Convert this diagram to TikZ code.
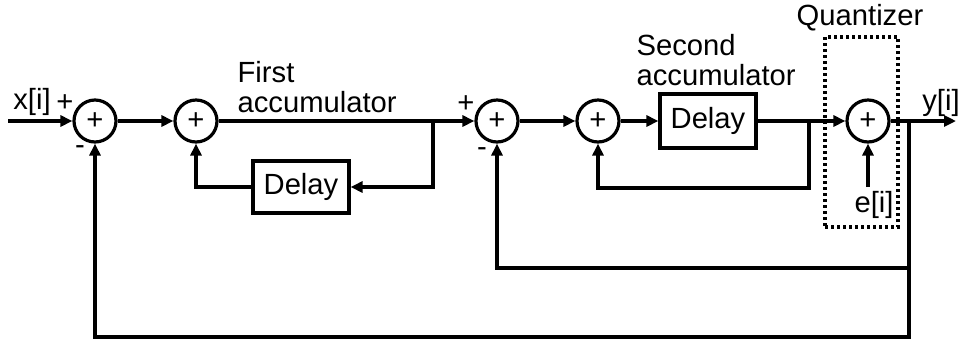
\documentclass[tikz,border=0pt]{standalone}
\usepackage{fontspec}
\setmainfont{Liberation Sans}
\usepackage{tikz}
\usetikzlibrary{arrows.meta, positioning, calc}

\begin{document}
\begin{tikzpicture}[x=0.5pt, y=-0.5pt, >={Triangle[length=6pt, width=5.5pt]},
  line width=1.6pt,
  every node/.style={font=\fontsize{14.6}{15}\selectfont},
  sumnode/.style={draw, circle, minimum size=21pt, inner sep=0pt},
  delaybox/.style={draw, rectangle, minimum width=48pt, minimum height=26pt, inner sep=0pt},
  sign/.style={inner sep=0pt}]
  \useasboundingbox (0,0) rectangle (964,339);
  % --- adders ---
  \node[sumnode] (s1) at (95,121) {+};
  \node[sumnode] (s2) at (196,121) {+};
  \node[sumnode] (s3) at (497,121) {+};
  \node[sumnode] (s4) at (598,121) {+};
  \node[sumnode] (s5) at (868,121) {+};
  % --- delays ---
  \node[delaybox] (d1) at (301,187) {Delay};
  \node[delaybox, minimum height=27pt] (d2) at (708,121) {Delay};
  % --- quantizer ---
  \node[draw, dash pattern=on 1.5pt off 1.5pt, minimum width=36.5pt, minimum height=95pt, inner sep=0pt] (qbox) at (861.5,132) {};
  \node[anchor=base] (qlbl) at (860,25) {Quantizer};
  % --- labels ---
  \node[anchor=base west, align=left, inner sep=0pt] (acc1) at (236,112) {First\\[0pt]accumulator};
  \node[anchor=base west, align=left, inner sep=0pt] (acc2) at (635,85) {Second\\[0pt]accumulator};
  \node[anchor=base] (xlbl) at (32,109) {x[i]};
  \node[anchor=base] (ylbl) at (941,110) {y[i]};
  \node[anchor=base] (elbl) at (874,212) {e[i]};
  \node[sign] (p1) at (65,103) {+};
  \node[sign] (m1) at (80,150) {-};
  \node[sign] (p3) at (466,104) {+};
  \node[sign] (m3) at (482,152) {-};
  % --- junctions and free ends ---
  \coordinate (xin) at (8,121);
  \coordinate (yout) at (956,121);
  \coordinate (j1) at (433,121);
  \coordinate (j2) at (809,121);
  \coordinate (j3) at (909,121);
  \coordinate (f2) at (809,188);
  \coordinate (ein) at (868,187);
  \coordinate (b1) at (95,337);
  \coordinate (b2) at (497,268);
  % --- forward path ---
  \draw[->] (xin) -- (s1);
  \draw[->] (s1) -- (s2);
  \draw (s2) -- (j1);
  \draw[->] (j1) -- (s3);
  \draw[->] (s3) -- (s4);
  \draw[->] (s4) -- (d2);
  \draw (d2) -- (j2);
  \draw[->] (j2) -- (s5);
  \draw[->] (s5) -- (yout);
  \draw[->] (ein) -- (s5);
  % --- accumulator loops ---
  \draw[->] (j1) |- (d1);
  \draw[->] (d1) -| (s2);
  \draw[->] (j2) -- (f2) -| (s4);
  % --- outer feedback ---
  \draw[->] (j3) |- (b2) -- (s3);
  \draw[->] (j3) |- (b1) -- (s1);
\end{tikzpicture}
\end{document}
